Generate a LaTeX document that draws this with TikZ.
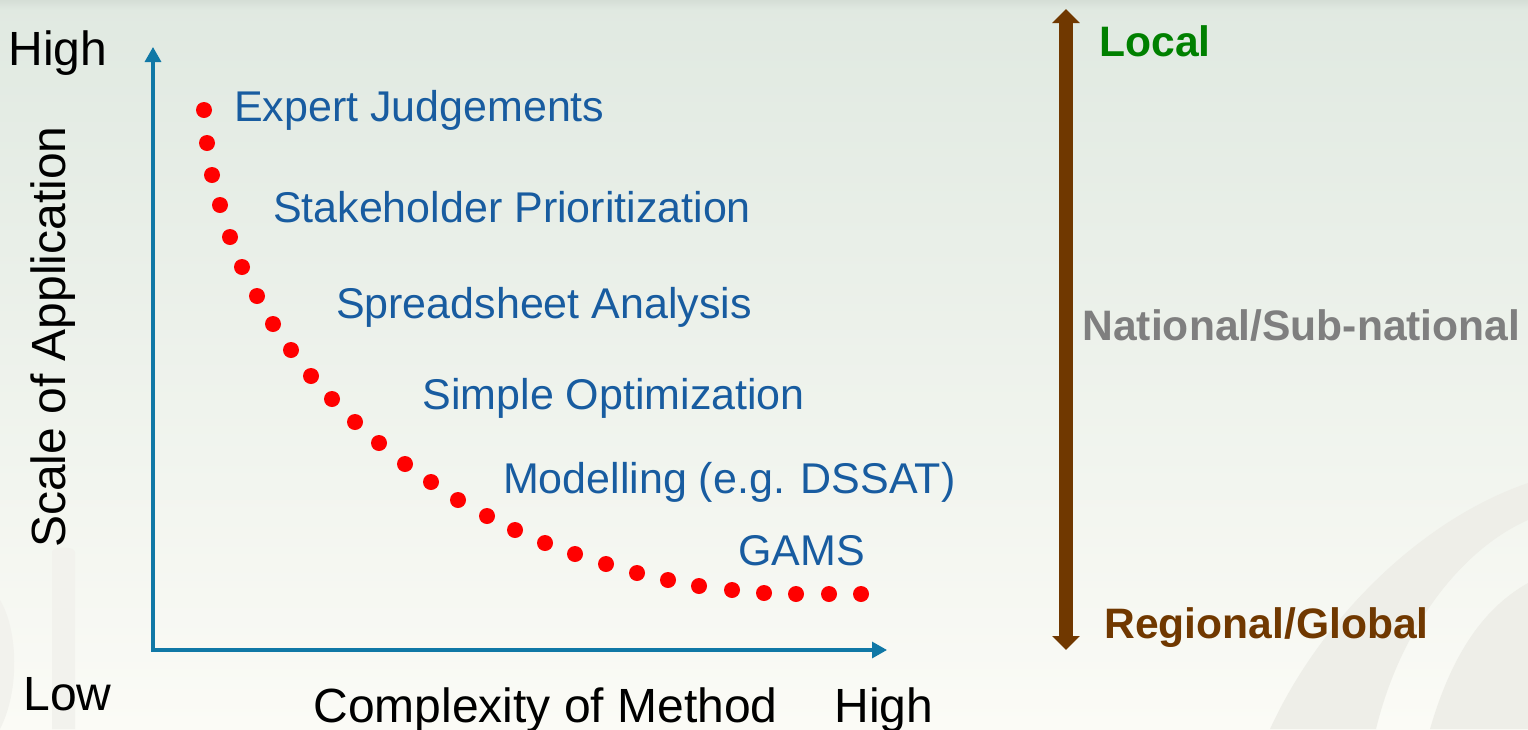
\documentclass[tikz,border=0pt]{standalone}
\usepackage{fontspec}
\setmainfont{Liberation Sans}
\usetikzlibrary{arrows.meta}

\definecolor{axisblue}{RGB}{16,120,166}
\definecolor{labelblue}{RGB}{24,92,160}
\definecolor{dotred}{RGB}{255,0,0}
\definecolor{scalebrown}{RGB}{112,56,0}
\definecolor{localgreen}{RGB}{0,128,0}
\definecolor{natgray}{RGB}{127,127,127}
\definecolor{bgtop}{RGB}{224,233,225}
\definecolor{bgmid}{RGB}{240,243,234}
\definecolor{bgbot}{RGB}{251,251,246}
\definecolor{swoosh}{RGB}{238,238,232}
\definecolor{swooshleft}{RGB}{242,242,237}

\begin{document}
\begin{tikzpicture}[x=1pt,y=-1pt,
  axislabel/.style={inner sep=0pt, outer sep=0pt, anchor=base west,
    font=\fontsize{48}{48}\selectfont},
  method/.style={inner sep=0pt, outer sep=0pt, anchor=base west, text=labelblue,
    font=\fontsize{43}{43}\selectfont},
  scalelabel/.style={inner sep=0pt, outer sep=0pt, anchor=base west,
    font=\fontsize{42.6}{42.6}\selectfont\bfseries},
  axisline/.style={draw=axisblue, line width=3.2pt, line join=miter,
    {Triangle[length=15pt,width=16pt]}-{Triangle[length=15pt,width=16pt]}},
  scalearrow/.style={draw=scalebrown, line width=14pt,
    {Triangle[length=14pt,width=27pt]}-{Triangle[length=14pt,width=27pt]}},
  curvedot/.style={fill=dotred}]

% background
\useasboundingbox (0,0) rectangle (1528,729);
\shade[top color=bgtop, middle color=bgmid, bottom color=bgbot]
  (0,0) rectangle (1528,729);
\shade[top color=bgtop!92!black!60!bgtop, bottom color=bgtop] (0,0) rectangle (1528,10);

% faint swooshes
\fill[swoosh] (1270,729) .. controls (1320,620) and (1420,520) .. (1528,483)
  -- (1528,520) .. controls (1460,550) and (1400,630) .. (1376,729) -- cycle;
\fill[swoosh] (1430,729) .. controls (1450,660) and (1480,610) .. (1528,583)
  -- (1528,729) -- cycle;
\fill[swooshleft] (52,729) -- (52,552) .. controls (52,546) and (75,546) .. (75,552)
  -- (75,729) -- cycle;
\fill[swooshleft] (0,600) .. controls (18,630) and (20,690) .. (0,729) -- cycle;

% axes
\coordinate (ytip) at (153,47);
\coordinate (O) at (153,650);
\coordinate (xtip) at (887,650);
\draw[axisline] (ytip) -- (O) -- (xtip);

% trade-off curve
\foreach \px/\py in {204/110,207/143,212/175,220/205,230/237,242/267,257/296,
  273/324,291/350,311/376,332/399,355/422,379/443,405/464,431/482,458/500,
  487/516,515/530,545/543,575/554,606/564,637/573,668/580,699/586,732/590,
  764/593,796/594,829/594,861/594}
  \fill[curvedot] (\px,\py) circle (8pt);

% axis labels
\node[axislabel] (yhigh) at (8.5,65) {High};
\node[axislabel] (low) at (23.5,710) {Low};
\node[axislabel] (xtitle) at (313.5,722) {Complexity of Method};
\node[axislabel] (xhigh) at (834.5,722) {High};
\node[axislabel, anchor=base, rotate=90] (ytitle) at (65,337) {Scale of Application};

% methods
\node[method] (expert) at (234,121) {Expert Judgements};
\node[method] (stake) at (273,222) {Stakeholder Prioritization};
\node[method] (spread) at (336,318) {Spreadsheet Analysis};
\node[method] (simple) at (422.5,409) {Simple Optimization};
\node[method] (model) at (503,493) {Modelling (e.g. DSSAT)};
\node[method] (gams) at (738.5,565) {GAMS};

% scale of application arrow
\coordinate (scaletop) at (1066,9);
\coordinate (scalebot) at (1066,650);
\draw[scalearrow] (scalebot) -- (scaletop);
\node[scalelabel, text=localgreen] (local) at (1099.5,56) {Local};
\node[scalelabel, text=natgray] (national) at (1082.5,340) {National/Sub-national};
\node[scalelabel, text=scalebrown] (regional) at (1104.5,638) {Regional/Global};
\end{tikzpicture}
\end{document}
